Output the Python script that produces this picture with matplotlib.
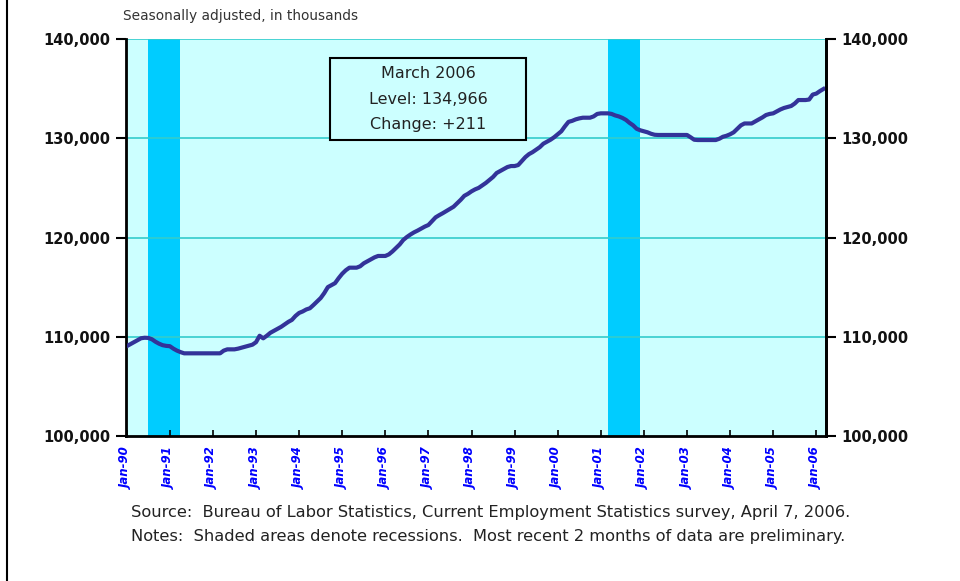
import matplotlib.pyplot as plt
from matplotlib.patches import Rectangle
from matplotlib.lines import Line2D
import numpy as np

# nonfarm payroll employment, monthly, Jan 1990 - Mar 2006 (thousands)
emp_1990 = [109050, 109250, 109450, 109650, 109850, 109900, 109880, 109750, 109500, 109300, 109150, 109080]
emp_1991 = [109050, 108800, 108600, 108450, 108330, 108330, 108320, 108320, 108320, 108320, 108320, 108320]
emp_1992 = [108320, 108330, 108330, 108600, 108730, 108730, 108730, 108800, 108900, 109000, 109100, 109200]
emp_1993 = [109450, 110100, 109840, 110100, 110400, 110600, 110800, 111000, 111250, 111500, 111700, 112100]
emp_1994 = [112400, 112550, 112750, 112870, 113200, 113550, 113900, 114400, 115000, 115200, 115400, 115900]
emp_1995 = [116350, 116700, 116960, 116960, 116960, 117100, 117400, 117600, 117800, 118000, 118140, 118140]
emp_1996 = [118140, 118300, 118600, 118950, 119300, 119750, 120050, 120300, 120520, 120700, 120900, 121100]
emp_1997 = [121260, 121650, 122030, 122250, 122450, 122670, 122900, 123100, 123450, 123800, 124200, 124400]
emp_1998 = [124650, 124850, 125000, 125250, 125500, 125800, 126100, 126500, 126700, 126900, 127100, 127200]
emp_1999 = [127200, 127300, 127700, 128100, 128400, 128600, 128850, 129100, 129450, 129650, 129850, 130100]
emp_2000 = [130400, 130700, 131200, 131650, 131750, 131900, 132000, 132070, 132070, 132070, 132200, 132450]
emp_2001 = [132510, 132510, 132510, 132450, 132300, 132200, 132050, 131850, 131550, 131300, 130950, 130800]
emp_2002 = [130700, 130600, 130450, 130350, 130330, 130330, 130330, 130330, 130330, 130330, 130330, 130330]
emp_2003 = [130330, 130100, 129850, 129820, 129820, 129820, 129820, 129820, 129820, 129950, 130150, 130250]
emp_2004 = [130400, 130600, 130950, 131300, 131490, 131490, 131490, 131700, 131900, 132100, 132340, 132450]
emp_2005 = [132510, 132700, 132900, 133050, 133150, 133250, 133500, 133850, 133850, 133850, 133900, 134400]
emp_2006 = [134500, 134750, 134966]

employment = (emp_1990 + emp_1991 + emp_1992 + emp_1993 + emp_1994 + emp_1995 + emp_1996
              + emp_1997 + emp_1998 + emp_1999 + emp_2000 + emp_2001 + emp_2002 + emp_2003
              + emp_2004 + emp_2005 + emp_2006)

years = list(range(1990, 2007))
tick_labels = ['Jan-%02d' % (y % 100) for y in years]

# recessions as month index (0 = Jan 1990): start month, end month
recessions = [(6, 14), (134, 142)]

box_lines = ['March 2006', 'Level: 134,966', 'Change: +211']

bg = '#CCFFFF'
band = '#00CCFF'
grid = '#33CCCC'
line_col = '#333399'

fig = plt.figure(figsize=(9.6, 5.81), dpi=100)
ax = fig.add_axes([126 / 960, 1 - 436 / 581, 700 / 960, 397 / 581])
ax.set_facecolor(bg)

months = np.arange(len(employment))
for s, e in recessions:
    ax.axvspan(s, e + 0.9, color=band, lw=0, zorder=1)

for yv in [110000, 120000, 130000, 140000]:
    ax.axhline(yv, color=grid, lw=1.2, zorder=2)

ax.plot(months, employment, color=line_col, lw=3, zorder=3, solid_joinstyle='round')

yt = [100000, 110000, 120000, 130000, 140000]
ylab = ['{:,}'.format(v) for v in yt]

ax.set_xlim(-0.2, 194.7)
ax.set_ylim(100000, 140000)
ax.set_yticks(yt)
ax.set_yticklabels(ylab, fontsize=10.5, fontweight='bold', color='#111111')
ax.set_xticks(np.arange(0, 193, 12))
ax.set_xticklabels(tick_labels, rotation=90, fontsize=8.5, fontweight='bold',
                   style='italic', color='#0000FF')
ax.tick_params(axis='x', direction='in', length=4, width=1.2, pad=8)
ax.tick_params(axis='y', direction='out', length=7, width=1.5, pad=4)

ax.spines['top'].set_visible(False)
for sp in ['left', 'right', 'bottom']:
    ax.spines[sp].set_linewidth(2)

ax2 = ax.twinx()
ax2.set_ylim(100000, 140000)
ax2.set_yticks(yt)
ax2.set_yticklabels(ylab, fontsize=10.5, fontweight='bold', color='#111111')
ax2.tick_params(axis='y', direction='out', length=7, width=1.5, pad=4)
ax2.spines['top'].set_visible(False)
ax2.spines['right'].set_linewidth(2)

# annotation box
x0 = (330 - 126) / 700
y0 = (436 - 140) / 397
ax.add_patch(Rectangle((x0, y0), 196 / 700, 82 / 397, transform=ax.transAxes,
                       facecolor=bg, edgecolor='black', lw=1.5, zorder=5))
for i, t in enumerate(box_lines):
    ax.text((428 - 126) / 700, (436 - 74 - 25 * i) / 397, t, transform=ax.transAxes,
            ha='center', va='center', fontsize=11.5, color='#222222', zorder=6)

fig.text(123 / 960, 1 - 16 / 581, 'Seasonally adjusted, in thousands',
         fontsize=9.9, color='#333333', ha='left', va='center')
fig.text(131 / 960, 1 - 512 / 581,
         'Source:  Bureau of Labor Statistics, Current Employment Statistics survey, April 7, 2006.',
         fontsize=11.7, color='#222222', ha='left', va='center')
fig.text(131 / 960, 1 - 537 / 581,
         'Notes:  Shaded areas denote recessions.  Most recent 2 months of data are preliminary.',
         fontsize=11.7, color='#222222', ha='left', va='center')

fig.add_artist(Line2D([7 / 960, 7 / 960], [0, 1], color='black', lw=1.5, transform=fig.transFigure))

fig.savefig('out.png', dpi=100)
